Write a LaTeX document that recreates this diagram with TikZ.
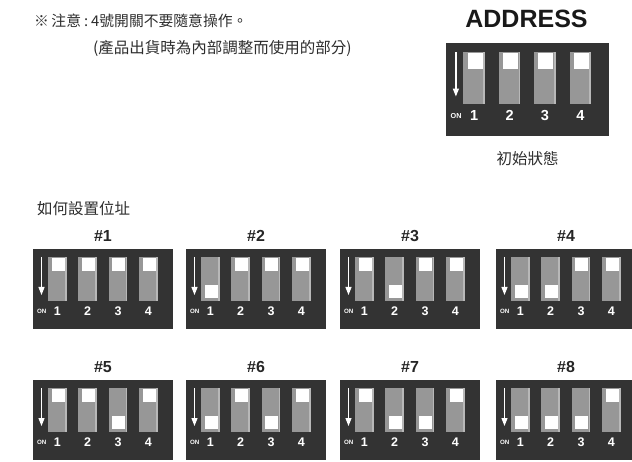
\documentclass[tikz,border=0pt]{standalone}
\usepackage{fontspec}
\setmainfont{Liberation Sans}
\newfontfamily\cjk{Noto Sans CJK TC}
\usetikzlibrary{arrows.meta}
\definecolor{dipdark}{HTML}{333333}
\definecolor{slotgray}{HTML}{979797}
\definecolor{slotlight}{HTML}{B8B8B8}
\definecolor{txtgray}{HTML}{2E2E2E}
\tikzset{
  cjktext/.style={font=\cjk\fontsize{15.5}{17}\selectfont, text=txtgray, inner sep=0pt},
  boxtitle/.style={font=\bfseries\fontsize{16}{18}\selectfont, text=black!85, inner sep=0pt},
  onarrow/.style={draw=white, line width=1.3pt, -{Triangle[width=6pt,length=8pt]}},
}
\newcommand{\dipunit}[5]{%
  % #1 name, #2 x left, #3 y top, #4 scale, #5 on-states
  \begin{scope}[shift={(#2,#3)}, scale=#4]
    \pgfmathsetmacro\numsz{12.5*#4}
    \pgfmathsetmacro\onsz{6.2*#4}
    \fill[dipdark] (0,0) rectangle (140,80);
    \coordinate (#1) at (70,0);
    \foreach \b [count=\i] in {#5} {
      \pgfmathsetmacro\sx{15+30.4*(\i-1)}
      \fill[slotgray] (\sx,7.7) rectangle (\sx+18.5,52);
      \fill[slotlight] (\sx+17,7.7) rectangle (\sx+18.5,52);
      \ifnum\b=1
        \fill[white] (\sx+3.5,36) rectangle (\sx+16.5,49);
      \else
        \fill[white] (\sx+3.5,9) rectangle (\sx+16.5,22);
      \fi
      \node[font=\bfseries\fontsize{\numsz}{\numsz}\selectfont, text=white, inner sep=0pt]
        (#1-n\i) at (\sx+9.25,62.5) {\i};
    }
    \node[font=\bfseries\fontsize{\onsz}{\onsz}\selectfont, text=white, inner sep=0pt]
      (#1-on) at (8.7,62.5) {ON};
    \coordinate (#1-a1) at (8.5,8);
    \coordinate (#1-a2) at (8.5,46);
    \draw[onarrow] (#1-a1) -- (#1-a2);
  \end{scope}}

\begin{document}
\begin{tikzpicture}[x=1pt,y=-1pt]
  \useasboundingbox (0,0) rectangle (632,462);
  \clip (0,0) rectangle (632,462);
  \fill[white] (0,0) rectangle (632,462);

  % header notes
  \node[cjktext, anchor=west, font=\cjk\fontsize{14.8}{17}\selectfont] (note1) at (34,21) {※\hspace{2.5pt}注意\hspace{3pt}:\hspace{3pt}4號開關不要隨意操作。};
  \node[cjktext, anchor=west] (note2) at (93,48) {(產品出貨時為內部調整而使用的部分)};

  % ADDRESS block
  \node[font=\bfseries\fontsize{25}{27}\selectfont, text=black!90, inner sep=0pt] (addr) at (526.5,19) {ADDRESS};
  \dipunit{top}{446}{43}{1.164}{0,0,0,0}
  \node[cjktext] (init) at (527.5,159) {初始狀態};

  % how to set
  \node[cjktext, anchor=west] (howto) at (37,209) {如何設置位址};

  \dipunit{d1}{33}{249}{1}{0,0,0,0}
  \dipunit{d2}{186}{249}{1}{1,0,0,0}
  \dipunit{d3}{340}{249}{1}{0,1,0,0}
  \dipunit{d4}{496}{249}{1}{1,1,0,0}
  \dipunit{d5}{33}{380}{1}{0,0,1,0}
  \dipunit{d6}{186}{380}{1}{1,0,1,0}
  \dipunit{d7}{340}{380}{1}{0,1,1,0}
  \dipunit{d8}{496}{380}{1}{1,1,1,0}

  \foreach \k in {1,...,8} {
    \node[boxtitle, above=7pt] (t\k) at (d\k) {\#\k};
  }
\end{tikzpicture}
\end{document}
